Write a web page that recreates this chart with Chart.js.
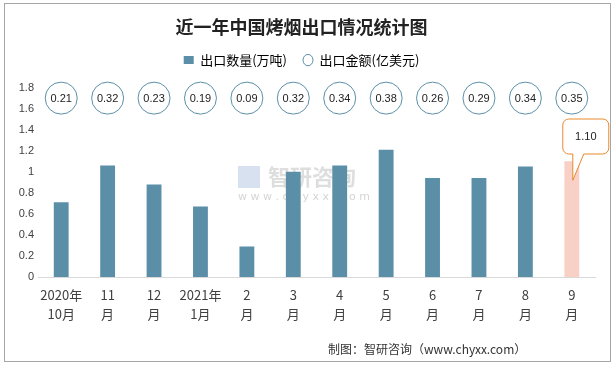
<!DOCTYPE html>
<html>
<head>
<meta charset="utf-8">
<script src="https://cdn.jsdelivr.net/npm/chart.js@4/dist/chart.umd.min.js"></script>
<style>
  html, body { margin: 0; padding: 0; background: #fff; }
  #wrap { width: 615px; height: 367px; position: relative; }
</style>
</head>
<body>
<div id="wrap"><canvas id="chart" width="615" height="367"></canvas></div>
<script>
// 月份标签
const months = [
    ['2020年', '10月'], ['11', '月'], ['12', '月'], ['2021年', '1月'],
    ['2', '月'], ['3', '月'], ['4', '月'], ['5', '月'],
    ['6', '月'], ['7', '月'], ['8', '月'], ['9', '月']
];
// 出口数量(万吨)
const quantity = [0.71, 1.06, 0.88, 0.67, 0.29, 1.00, 1.06, 1.21, 0.94, 0.94, 1.05, 1.10];
// 出口金额(亿美元)
const amount = [0.21, 0.32, 0.23, 0.19, 0.09, 0.32, 0.34, 0.38, 0.26, 0.29, 0.34, 0.35];
const yTicks = [0, 0.2, 0.4, 0.6, 0.8, 1, 1.2, 1.4, 1.6, 1.8];

const barColor = '#5b8fa8';
const lastColor = '#f9d0c6';
const bubbleRow = 1.7; // 金额圆圈所在的高度

const ctx = document.getElementById('chart').getContext('2d');

// 图例下方多留一点空
const legendGap = {
    id: 'legendGap',
    beforeInit(chart) {
        const fit = chart.legend.fit;
        chart.legend.fit = function () {
            fit.bind(chart.legend)();
            this.height += 11;
        };
    }
};

// 边框、金额文字、最后一个月的标注、水印和来源
const decor = {
    id: 'decor',
    beforeDraw(chart) {
        const c = chart.ctx;
        c.save();
        c.strokeStyle = '#a6a6a6';
        c.lineWidth = 1;
        c.strokeRect(4.5, 3.5, 606, 358);
        // 水印
        c.fillStyle = 'rgba(160,160,160,0.35)';
        c.font = 'bold 22px "Noto Sans CJK SC"';
        c.textBaseline = 'middle';
        c.fillText('智研咨询', 268, 177);
        c.fillStyle = 'rgba(140,170,210,0.35)';
        c.fillRect(238, 166, 22, 22);
        c.font = '11px "DejaVu Sans"';
        c.fillStyle = 'rgba(160,160,160,0.45)';
        c.fillText('w w w . c h y x x . c o m', 238, 197);
        c.restore();
    },
    afterDatasetsDraw(chart) {
        const c = chart.ctx;
        const pts = chart.getDatasetMeta(1).data;
        c.save();
        c.fillStyle = '#222';
        c.font = '11px "Liberation Sans"';
        c.textAlign = 'center';
        c.textBaseline = 'middle';
        pts.forEach((p, i) => c.fillText(amount[i].toFixed(2), p.x, p.y + 1));

        // 最后一根柱子的标注框
        const bars = chart.getDatasetMeta(0).data;
        const b = bars[bars.length - 1];
        const x0 = b.x - 9, y0 = 119, w = 46, h = 35, r = 6;
        c.strokeStyle = '#e8892f';
        c.fillStyle = '#fff';
        c.lineWidth = 1;
        c.beginPath();
        c.moveTo(x0 + r, y0);
        c.lineTo(x0 + w - r, y0);
        c.arcTo(x0 + w, y0, x0 + w, y0 + r, r);
        c.lineTo(x0 + w, y0 + h - r);
        c.arcTo(x0 + w, y0 + h, x0 + w - r, y0 + h, r);
        c.lineTo(x0 + 21, y0 + h);
        c.lineTo(b.x + 1, b.y + 19);
        c.lineTo(x0 + 10, y0 + h);
        c.lineTo(x0 + r, y0 + h);
        c.arcTo(x0, y0 + h, x0, y0 + h - r, r);
        c.lineTo(x0, y0 + r);
        c.arcTo(x0, y0, x0 + r, y0, r);
        c.closePath();
        c.fill();
        c.stroke();
        c.fillStyle = '#222';
        c.fillText(quantity[quantity.length - 1].toFixed(2), x0 + w / 2, y0 + 18);

        // 来源
        c.textAlign = 'left';
        c.font = '12px "Noto Sans CJK SC"';
        c.fillStyle = '#333';
        c.fillText('制图：智研咨询（www.chyxx.com）', 328, 349);
        c.restore();
    }
};

new Chart(ctx, {
    type: 'bar',
    data: {
        labels: months,
        datasets: [{
            label: '出口数量(万吨)',
            data: quantity,
            backgroundColor: quantity.map((v, i) => i === quantity.length - 1 ? lastColor : barColor),
            barPercentage: 0.64,
            categoryPercentage: 0.5,
            order: 2
        }, {
            type: 'line',
            label: '出口金额(亿美元)',
            data: amount.map(() => bubbleRow),
            showLine: false,
            clip: false,
            pointRadius: 16,
            pointHoverRadius: 16,
            pointBackgroundColor: '#fff',
            pointBorderColor: barColor,
            pointBorderWidth: 1,
            order: 1
        }]
    },
    options: {
        responsive: false,
        animation: false,
        layout: { padding: { left: 8, right: 20, top: 6, bottom: 35 } },
        plugins: {
            title: {
                display: true,
                text: '近一年中国烤烟出口情况统计图',
                color: '#222',
                font: { family: '"Noto Sans CJK SC"', size: 18, weight: 'bold' },
                padding: { top: 10, bottom: 0 }
            },
            legend: {
                position: 'top',
                labels: {
                    color: '#404040',
                    font: { family: '"Noto Sans CJK SC"', size: 13 },
                    boxWidth: 8,
                    boxHeight: 8,
                    padding: 16,
                    generateLabels: () => [
                        { text: '出口数量(万吨)', fillStyle: barColor, strokeStyle: barColor, lineWidth: 0, pointStyle: 'rect' },
                        { text: '出口金额(亿美元)', fillStyle: '#fff', strokeStyle: barColor, lineWidth: 1, pointStyle: 'circle' }
                    ],
                    usePointStyle: true,
                    pointStyleWidth: 10
                }
            },
            tooltip: { enabled: false }
        },
        scales: {
            x: {
                grid: { display: false, drawTicks: false },
                border: { color: '#d9d9d9' },
                ticks: {
                    color: '#404040',
                    font: { family: '"Noto Sans CJK SC"', size: 13, lineHeight: 1.5 },
                    padding: 8,
                    maxRotation: 0,
                    autoSkip: false
                }
            },
            y: {
                min: 0,
                max: 1.8,
                afterBuildTicks: axis => { axis.ticks = yTicks.map(v => ({ value: v })); },
                afterFit: axis => { axis.width = 30; },
                grid: { display: false, drawTicks: false },
                border: { display: false },
                ticks: {
                    color: '#404040',
                    font: { family: '"Liberation Sans"', size: 11 },
                    padding: 4,
                    callback: v => String(v)
                }
            }
        }
    },
    plugins: [legendGap, decor]
});
</script>
</body>
</html>
